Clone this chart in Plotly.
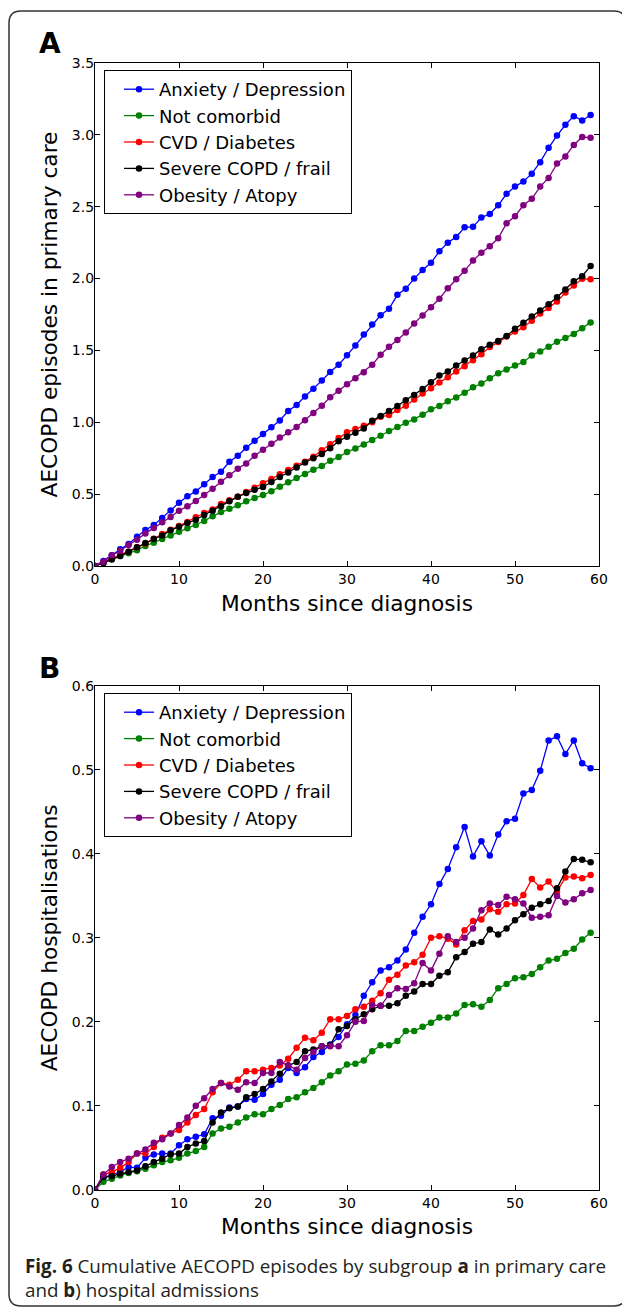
import plotly.graph_objects as go

months = list(range(60))
series_names = ["Anxiety / Depression", "Not comorbid", "CVD / Diabetes", "Severe COPD / frail", "Obesity / Atopy"]
series_colors = ["#0000ff", "#008000", "#ff0000", "#000000", "#800080"]

# Panel A: cumulative AECOPD episodes in primary care
a_anxiety = [0, 0.035, 0.074, 0.116, 0.153, 0.204, 0.25, 0.285, 0.334, 0.387, 0.44, 0.485, 0.519, 0.568, 0.619, 0.656,
             0.725, 0.767, 0.823, 0.871, 0.918, 0.965, 1.013, 1.078, 1.12, 1.18, 1.233, 1.29, 1.35, 1.40, 1.466, 1.535,
             1.61, 1.68, 1.745, 1.79, 1.887, 1.93, 2.0, 2.06, 2.11, 2.19, 2.25, 2.29, 2.357, 2.36, 2.425, 2.45, 2.51,
             2.59, 2.64, 2.675, 2.73, 2.81, 2.91, 2.995, 3.07, 3.13, 3.10, 3.138]
a_notcomorbid = [0, 0.025, 0.05, 0.07, 0.088, 0.11, 0.139, 0.162, 0.188, 0.213, 0.238, 0.262, 0.285, 0.313, 0.347, 0.375,
                 0.398, 0.422, 0.45, 0.473, 0.494, 0.52, 0.552, 0.582, 0.612, 0.64, 0.67, 0.695, 0.732, 0.758, 0.793,
                 0.818, 0.846, 0.876, 0.906, 0.939, 0.967, 0.997, 1.02, 1.052, 1.09, 1.113, 1.147, 1.173, 1.205, 1.243,
                 1.27, 1.307, 1.342, 1.368, 1.395, 1.42, 1.465, 1.493, 1.525, 1.56, 1.586, 1.615, 1.655, 1.695]
a_cvd = [0, 0.025, 0.05, 0.075, 0.1, 0.13, 0.157, 0.19, 0.223, 0.253, 0.278, 0.306, 0.339, 0.369, 0.394, 0.431, 0.457,
         0.482, 0.515, 0.545, 0.575, 0.605, 0.638, 0.668, 0.697, 0.725, 0.76, 0.805, 0.848, 0.89, 0.93, 0.953, 0.976,
         1.0, 1.038, 1.05, 1.085, 1.115, 1.159, 1.2, 1.236, 1.277, 1.314, 1.353, 1.39, 1.432, 1.474, 1.523, 1.558,
         1.597, 1.632, 1.662, 1.706, 1.757, 1.796, 1.84, 1.903, 1.952, 1.998, 1.996]
a_severe = [0, 0.02, 0.045, 0.07, 0.1, 0.13, 0.16, 0.188, 0.213, 0.248, 0.273, 0.3, 0.322, 0.355, 0.385, 0.415, 0.45,
            0.482, 0.508, 0.53, 0.55, 0.585, 0.62, 0.65, 0.685, 0.72, 0.75, 0.78, 0.82, 0.868, 0.9, 0.927, 0.957, 1.01,
            1.043, 1.078, 1.113, 1.154, 1.19, 1.231, 1.278, 1.325, 1.353, 1.395, 1.43, 1.465, 1.509, 1.539, 1.565, 1.6,
            1.65, 1.692, 1.736, 1.778, 1.822, 1.87, 1.924, 1.982, 2.017, 2.088]
a_obesity = [0, 0.03, 0.074, 0.106, 0.146, 0.183, 0.227, 0.264, 0.304, 0.341, 0.385, 0.415, 0.452, 0.494, 0.538, 0.586,
             0.631, 0.677, 0.714, 0.767, 0.809, 0.85, 0.895, 0.93, 0.967, 1.015, 1.064, 1.115, 1.175, 1.22, 1.265,
             1.307, 1.349, 1.40, 1.47, 1.525, 1.572, 1.625, 1.688, 1.743, 1.80, 1.86, 1.933, 1.996, 2.054, 2.125, 2.18,
             2.225, 2.28, 2.385, 2.434, 2.51, 2.555, 2.64, 2.70, 2.80, 2.85, 2.93, 2.985, 2.98]

# Panel B: cumulative AECOPD hospitalisations
b_anxiety = [0, 0.014, 0.018, 0.021, 0.027, 0.026, 0.038, 0.042, 0.043, 0.043, 0.053, 0.06, 0.063, 0.066, 0.085, 0.088,
             0.098, 0.099, 0.108, 0.107, 0.114, 0.125, 0.131, 0.145, 0.139, 0.146, 0.158, 0.164, 0.173, 0.182, 0.197,
             0.208, 0.231, 0.247, 0.261, 0.265, 0.273, 0.286, 0.306, 0.325, 0.34, 0.364, 0.382, 0.408, 0.432, 0.397,
             0.415, 0.398, 0.423, 0.439, 0.442, 0.472, 0.476, 0.499, 0.535, 0.54, 0.519, 0.535, 0.508, 0.502]
b_notcomorbid = [0, 0.0095, 0.013, 0.017, 0.02, 0.022, 0.025, 0.029, 0.033, 0.035, 0.038, 0.043, 0.046, 0.051, 0.067,
                 0.073, 0.075, 0.08, 0.086, 0.09, 0.09, 0.096, 0.101, 0.108, 0.11, 0.116, 0.121, 0.128, 0.136, 0.141,
                 0.149, 0.15, 0.154, 0.165, 0.172, 0.172, 0.177, 0.189, 0.189, 0.194, 0.199, 0.205, 0.205, 0.21, 0.22,
                 0.221, 0.218, 0.226, 0.24, 0.245, 0.252, 0.253, 0.257, 0.265, 0.273, 0.275, 0.282, 0.287, 0.298, 0.306]
b_cvd = [0, 0.018, 0.021, 0.026, 0.033, 0.043, 0.043, 0.051, 0.062, 0.067, 0.071, 0.080, 0.089, 0.096, 0.116, 0.127,
         0.125, 0.131, 0.141, 0.141, 0.143, 0.145, 0.148, 0.156, 0.169, 0.181, 0.178, 0.187, 0.203, 0.203, 0.207, 0.215,
         0.218, 0.225, 0.234, 0.25, 0.256, 0.267, 0.271, 0.28, 0.30, 0.302, 0.299, 0.292, 0.309, 0.32, 0.322, 0.334,
         0.331, 0.34, 0.341, 0.351, 0.37, 0.36, 0.367, 0.355, 0.372, 0.373, 0.371, 0.375]
b_severe = [0, 0.015, 0.016, 0.019, 0.021, 0.023, 0.028, 0.033, 0.037, 0.042, 0.043, 0.051, 0.055, 0.058, 0.08, 0.092,
            0.097, 0.099, 0.11, 0.114, 0.12, 0.129, 0.138, 0.148, 0.152, 0.165, 0.167, 0.171, 0.172, 0.191, 0.195, 0.203,
            0.209, 0.215, 0.219, 0.219, 0.222, 0.231, 0.236, 0.245, 0.245, 0.255, 0.259, 0.277, 0.283, 0.293, 0.295,
            0.31, 0.304, 0.311, 0.321, 0.328, 0.336, 0.34, 0.344, 0.359, 0.379, 0.394, 0.393, 0.39]
b_obesity = [0, 0.018, 0.027, 0.033, 0.037, 0.043, 0.048, 0.056, 0.06, 0.067, 0.077, 0.086, 0.1, 0.109, 0.12, 0.127,
             0.123, 0.119, 0.128, 0.127, 0.139, 0.139, 0.152, 0.148, 0.143, 0.157, 0.164, 0.171, 0.171, 0.171, 0.184,
             0.2, 0.201, 0.22, 0.219, 0.232, 0.24, 0.239, 0.246, 0.27, 0.261, 0.281, 0.302, 0.295, 0.30, 0.311, 0.333,
             0.341, 0.339, 0.349, 0.346, 0.341, 0.324, 0.325, 0.327, 0.35, 0.342, 0.346, 0.353, 0.357]

x_ticks = [0, 10, 20, 30, 40, 50, 60]
a_y_ticks = [0.0, 0.5, 1.0, 1.5, 2.0, 2.5, 3.0, 3.5]
b_y_ticks = [0.0, 0.1, 0.2, 0.3, 0.4, 0.5, 0.6]

# the browser's default 8px body margin offsets the figure inside the 630x1309 window
PAGE_MARGIN = 8
W, H = 630 - PAGE_MARGIN, 1309 - PAGE_MARGIN
FONT = "DejaVu Sans"


def px_x(p):
    return (p - PAGE_MARGIN) / W


def px_y(p):
    return 1 - (p - PAGE_MARGIN) / H


fig = go.Figure()
panel_a = [a_anxiety, a_notcomorbid, a_cvd, a_severe, a_obesity]
panel_b = [b_anxiety, b_notcomorbid, b_cvd, b_severe, b_obesity]
for i, (name, col, ys) in enumerate(zip(series_names, series_colors, panel_a)):
    fig.add_trace(go.Scatter(x=months, y=ys, name=name, mode="lines+markers",
                             line=dict(color=col, width=1.3), marker=dict(color=col, size=6.5),
                             legendgroup=f"a{i}", xaxis="x", yaxis="y", legend="legend"))
for i, (name, col, ys) in enumerate(zip(series_names, series_colors, panel_b)):
    fig.add_trace(go.Scatter(x=months, y=ys, name=name, mode="lines+markers",
                             line=dict(color=col, width=1.3), marker=dict(color=col, size=6.5),
                             legendgroup=f"b{i}", xaxis="x2", yaxis="y2", legend="legend2"))

axis_common = dict(showline=True, linecolor="black", linewidth=1.3, mirror="ticks", ticks="inside",
                   ticklen=5, tickwidth=1, tickcolor="black", showgrid=False, zeroline=False, automargin=False,
                   tickfont=dict(family=FONT, size=14, color="black"))
xdom = [px_x(95), px_x(599)]
title_font = dict(family=FONT, size=21.7, color="black")
legend_common = dict(xanchor="left", yanchor="top", bgcolor="white", bordercolor="black", borderwidth=1,
                     font=dict(family=FONT, size=18, color="black"), tracegroupgap=0, indentation=14)

fig.update_layout(
    width=W, height=H, margin=dict(l=0, r=0, t=0, b=0, autoexpand=False),
    paper_bgcolor="white", plot_bgcolor="white",
    xaxis=dict(domain=xdom, range=[0, 60], tickvals=x_ticks, anchor="y",
               title=dict(text="Months since diagnosis", font=title_font, standoff=9), **axis_common),
    yaxis=dict(domain=[px_y(566), px_y(63)], range=[0, 3.5], tickvals=a_y_ticks, tickformat=".1f", anchor="x",
               ticklabelstandoff=-3,
               title=dict(text="AECOPD episodes in primary care", font=title_font, standoff=8), **axis_common),
    xaxis2=dict(domain=xdom, range=[0, 60], tickvals=x_ticks, anchor="y2",
                title=dict(text="Months since diagnosis", font=title_font, standoff=9), **axis_common),
    yaxis2=dict(domain=[px_y(1189.7), px_y(686)], range=[0, 0.6], tickvals=b_y_ticks, tickformat=".1f",
                anchor="x2", ticklabelstandoff=-3,
                title=dict(text="AECOPD hospitalisations", font=title_font, standoff=8), **axis_common),
    legend=dict(x=px_x(104), y=px_y(70), **legend_common),
    legend2=dict(x=px_x(104), y=px_y(693), **legend_common),
)

# panel letters
fig.add_annotation(text="<b>A</b>", x=px_x(37), y=px_y(43), xref="paper", yref="paper", xanchor="left",
                   yanchor="middle", showarrow=False, font=dict(family=FONT, size=28, color="black"))
fig.add_annotation(text="<b>B</b>", x=px_x(37), y=px_y(668), xref="paper", yref="paper", xanchor="left",
                   yanchor="middle", showarrow=False, font=dict(family=FONT, size=28, color="black"))

# caption
fig.add_annotation(text="<b>Fig. 6</b> Cumulative AECOPD episodes by subgroup <b>a</b> in primary care<br>"
                        "and <b>b</b>) hospital admissions",
                   x=px_x(23), y=px_y(1251), xref="paper", yref="paper", xanchor="left", yanchor="top",
                   align="left", showarrow=False, font=dict(family="Open Sans", size=18.8, color="#231f20"))

# rounded frame
x0, x1 = px_x(9), px_x(626)
y0, y1 = px_y(1306), px_y(11)
rx, ry = 12 / W, 12 / H
path = (f"M {x0+rx},{y1} L {x1-rx},{y1} Q {x1},{y1} {x1},{y1-ry} L {x1},{y0+ry} Q {x1},{y0} {x1-rx},{y0} "
        f"L {x0+rx},{y0} Q {x0},{y0} {x0},{y0+ry} L {x0},{y1-ry} Q {x0},{y1} {x0+rx},{y1} Z")
fig.add_shape(type="path", path=path, xref="paper", yref="paper", line=dict(color="#333333", width=1.5),
              layer="below")

fig.write_html("out.html", config={"displayModeBar": False})
